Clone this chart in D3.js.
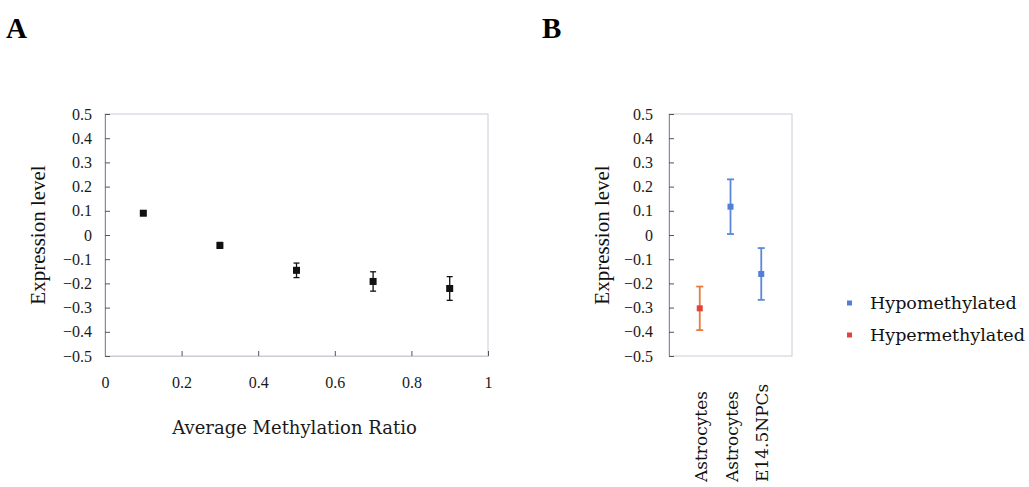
<!DOCTYPE html>
<html>
<head>
<meta charset="utf-8">
<script src="https://cdn.jsdelivr.net/npm/d3@7"></script>
<style>
  body { margin: 0; background: #fff; }
  svg { display: block; }
</style>
</head>
<body>
<div class="wrapper"></div>
<script>
// Panel A: methylation ratio bins
var ratios = [0.1, 0.3, 0.5, 0.7, 0.9];
var ratioMeans = [0.09, -0.043, -0.146, -0.192, -0.221];
var ratioErrors = [0.008, 0.012, 0.03, 0.04, 0.049];
var xTicks = [0, 0.2, 0.4, 0.6, 0.8, 1];
var yTicks = [0.5, 0.4, 0.3, 0.2, 0.1, 0, -0.1, -0.2, -0.3, -0.4, -0.5];

// Panel B: cell types
var cellTypes = ["Astrocytes", "Astrocytes ", "E14.5NPCs"];
var cellGroups = ["Hypermethylated", "Hypomethylated", "Hypomethylated"];
var cellMeans = [-0.303, 0.117, -0.161];
var cellErrors = [0.09, 0.113, 0.107];
var legendGroups = ["Hypomethylated", "Hypermethylated"];

var width = 1029, height = 487;
var serif = "Liberation Serif";
var wideSerif = "DejaVu Serif";
var frameColor = "#c9ccd6";
var groupColor = { Hypomethylated: "#4f7fd6", Hypermethylated: "#e0443a" };
var barColor = { Hypomethylated: "#5b88dc", Hypermethylated: "#ec7a3c" };

var svg = d3.select(".wrapper").append("svg")
  .attr("width", width)
  .attr("height", height);

// panel letters
svg.append("text").attr("x", 6).attr("y", 38)
  .attr("font-family", serif).attr("font-weight", "bold").attr("font-size", 29)
  .text("A");
svg.append("text").attr("x", 542).attr("y", 38)
  .attr("font-family", serif).attr("font-weight", "bold").attr("font-size", 29)
  .text("B");

var y = d3.scaleLinear().domain([-0.5, 0.5]).range([356, 114]);

function styleTicks(axis) {
  axis.attr("font-family", serif).attr("font-size", 16);
  axis.selectAll(".tick text").attr("fill", "#1a1a1a");
  axis.selectAll(".tick line").attr("stroke", "#555");
}

function drawYAxis(g, left, pad) {
  var axis = g.append("g")
    .attr("transform", `translate(${left},0)`)
    .call(d3.axisLeft(y).tickValues(yTicks).tickSize(-5).tickPadding(pad)
      .tickFormat(d => d === 0 ? "0" : d3.format(".1f")(d)));
  axis.select(".domain").attr("stroke", "#8a8d96");
  styleTicks(axis);
}

// ---------- Panel A ----------
var x = d3.scaleLinear().domain([0, 1]).range([105, 488]);
var gA = svg.append("g");

gA.append("rect")
  .attr("x", x(0)).attr("y", y(0.5))
  .attr("width", x(1) - x(0)).attr("height", y(-0.5) - y(0.5))
  .attr("fill", "none").attr("stroke", frameColor);

var xAxis = gA.append("g")
  .attr("transform", `translate(0,${y(-0.5)})`)
  .call(d3.axisBottom(x).tickValues(xTicks).tickSize(-5).tickPadding(21)
    .tickFormat(d => d === 0 || d === 1 ? String(d) : d3.format(".1f")(d)));
xAxis.select(".domain").attr("stroke", frameColor);
styleTicks(xAxis);

drawYAxis(gA, x(0), 13);

var pointsA = gA.selectAll(".pointA").data(ratios).enter().append("g").attr("class", "pointA");
pointsA.append("line")
  .attr("x1", d => x(d)).attr("x2", d => x(d))
  .attr("y1", (d, i) => y(ratioMeans[i] + ratioErrors[i]))
  .attr("y2", (d, i) => y(ratioMeans[i] - ratioErrors[i]))
  .attr("stroke", "#111").attr("stroke-width", 1.3);
[1, -1].forEach(s => {
  pointsA.append("line")
    .attr("x1", d => x(d) - 3).attr("x2", d => x(d) + 3)
    .attr("y1", (d, i) => y(ratioMeans[i] + s * ratioErrors[i]))
    .attr("y2", (d, i) => y(ratioMeans[i] + s * ratioErrors[i]))
    .attr("stroke", "#111").attr("stroke-width", 1.3);
});
pointsA.append("rect")
  .attr("x", d => x(d) - 3.5).attr("y", (d, i) => y(ratioMeans[i]) - 3.5)
  .attr("width", 7).attr("height", 7)
  .attr("fill", "#111");

gA.append("text")
  .attr("transform", `translate(45,${y(0)}) rotate(-90)`)
  .attr("text-anchor", "middle")
  .attr("font-family", serif).attr("font-size", 21).attr("fill", "#111")
  .text("Expression level");

gA.append("text")
  .attr("x", (x(0) + x(1)) / 2 - 2).attr("y", 434)
  .attr("text-anchor", "middle")
  .attr("font-family", wideSerif).attr("font-size", 18).attr("fill", "#1a1a1a")
  .text("Average Methylation Ratio");

// ---------- Panel B ----------
var xb = d3.scalePoint().domain(cellTypes).range([669, 792]).padding(1);
var gB = svg.append("g");

gB.append("rect")
  .attr("x", 669).attr("y", y(0.5))
  .attr("width", 792 - 669).attr("height", y(-0.5) - y(0.5))
  .attr("fill", "none").attr("stroke", frameColor);

drawYAxis(gB, 669, 16);

var pointsB = gB.selectAll(".pointB").data(cellTypes).enter().append("g").attr("class", "pointB");
pointsB.append("line")
  .attr("x1", d => xb(d)).attr("x2", d => xb(d))
  .attr("y1", (d, i) => y(cellMeans[i] + cellErrors[i]))
  .attr("y2", (d, i) => y(cellMeans[i] - cellErrors[i]))
  .attr("stroke", (d, i) => barColor[cellGroups[i]]).attr("stroke-width", 1.8);
[1, -1].forEach(s => {
  pointsB.append("line")
    .attr("x1", d => xb(d) - 3.5).attr("x2", d => xb(d) + 3.5)
    .attr("y1", (d, i) => y(cellMeans[i] + s * cellErrors[i]))
    .attr("y2", (d, i) => y(cellMeans[i] + s * cellErrors[i]))
    .attr("stroke", (d, i) => barColor[cellGroups[i]]).attr("stroke-width", 1.8);
});
pointsB.append("rect")
  .attr("x", d => xb(d) - 3).attr("y", (d, i) => y(cellMeans[i]) - 3)
  .attr("width", 6).attr("height", 6)
  .attr("fill", (d, i) => groupColor[cellGroups[i]]);

gB.selectAll(".cellLabel").data(cellTypes).enter().append("text")
  .attr("class", "cellLabel")
  .attr("transform", d => `translate(${xb(d) + 7},482) rotate(-90)`)
  .attr("text-anchor", "start")
  .attr("font-family", wideSerif).attr("font-size", 17).attr("fill", "#111")
  .text(d => d.trim());

gB.append("text")
  .attr("transform", `translate(609,${y(0)}) rotate(-90)`)
  .attr("text-anchor", "middle")
  .attr("font-family", serif).attr("font-size", 21).attr("fill", "#111")
  .text("Expression level");

var legend = gB.selectAll(".legendItem").data(legendGroups).enter().append("g")
  .attr("class", "legendItem")
  .attr("transform", (d, i) => `translate(847,${303 + i * 32})`);
legend.append("rect")
  .attr("x", 0).attr("y", -2.5).attr("width", 5).attr("height", 5)
  .attr("fill", d => groupColor[d]);
legend.append("text")
  .attr("x", 23).attr("y", 6)
  .attr("font-family", wideSerif).attr("font-size", 17.5).attr("fill", "#111")
  .text(d => d);
</script>
</body>
</html>
